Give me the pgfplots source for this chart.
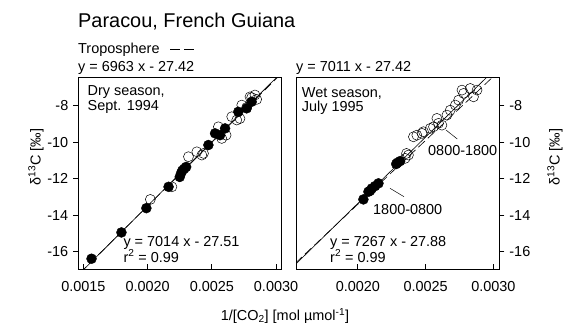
\documentclass[border=0pt]{standalone}
\usepackage{pgfplots}
\pgfplotsset{compat=1.18}
\usetikzlibrary{calc}
\usepackage{fontspec}
\setmainfont{Liberation Sans}
\begin{document}
\fontsize{14.5}{17}\selectfont
\begin{tikzpicture}[x=1bp,y=1bp]
\pgfplotsset{panel/.style={
  scale only axis, width=203.4bp, height=191.8bp, anchor=south west,
  ymin=-16.96, ymax=-6.45, ytick={-16,-14,-12,-10,-8},
  tick align=outside, xtick align/.try=inside, major tick length=5bp,
  xtick pos=left,
  /pgf/number format/assume math mode=true,
  scaled x ticks=false,
  xticklabel style={/pgf/number format/fixed, /pgf/number format/precision=4, /pgf/number format/fixed zerofill, yshift=-7bp},
  tick label style={font=\fontsize{14.5}{17}\selectfont},
  axis line style={line width=0.8bp},
  tick style={line width=0.7bp, black},
  clip=true,
}}
% Left panel
\begin{axis}[panel, name=L, at={(0,0)}, xmin=0.00146, xmax=0.003044,
  xtick={0.0015,0.002,0.0025,0.003}, ytick pos=left]
\addplot[black, line width=0.6bp] coordinates {(0.0014,-17.69) (0.0031,-5.77)};
\addplot[black, line width=0.6bp, dash pattern=on 9bp off 4bp] coordinates {(0.0014,-17.67) (0.0031,-5.83)};
\addplot[only marks, mark=o, mark size=5bp, mark options={black, line width=0.5bp}] coordinates {
(0.002021,-13.13) (0.002189,-12.44) (0.002318,-10.79) (0.002383,-10.52)
(0.002422,-10.70) (0.002435,-10.61) (0.002551,-9.15) (0.002577,-9.79)
(0.002611,-9.61) (0.002655,-8.60) (0.002694,-8.78) (0.002719,-8.70)
(0.002733,-7.96) (0.002771,-8.09) (0.002797,-7.51) (0.002810,-7.55)
(0.002836,-7.41) (0.002849,-7.65)};
\addplot[only marks, mark=*, mark size=5bp, mark options={black, fill=black}] coordinates {
(0.001563,-16.38) (0.001796,-14.94) (0.001990,-13.61) (0.002163,-12.44)
(0.002250,-11.90) (0.002260,-11.70) (0.002270,-11.55) (0.002285,-11.45)
(0.002300,-11.35) (0.002473,-10.15) (0.002525,-9.51) (0.002564,-9.61)
(0.002603,-9.24) (0.002706,-8.33) (0.002771,-8.14) (0.002810,-7.78)};
\end{axis}
% Right panel
\begin{axis}[panel, name=R, at={($(L.south west)+(217.7bp,0bp)$)}, xmin=0.001544, xmax=0.003044,
  xtick={0.002,0.0025,0.003}, ytick pos=right, yticklabel pos=right]
\addplot[black, line width=0.6bp] coordinates {(0.0014,-17.71) (0.0031,-5.35)};
\addplot[black, line width=0.6bp, dash pattern=on 9bp off 4bp] coordinates {(0.0014,-17.60) (0.0031,-5.69)};
\addplot[only marks, mark=o, mark size=5bp, mark options={black, line width=0.5bp}] coordinates {
(0.002349,-10.88) (0.002373,-10.70) (0.002359,-10.61) (0.002410,-9.70)
(0.002435,-9.61) (0.002473,-9.51) (0.002484,-9.42) (0.002534,-9.24)
(0.002558,-9.15) (0.002583,-8.69) (0.002595,-8.96) (0.002620,-9.06)
(0.002657,-8.51) (0.002681,-8.24) (0.002719,-7.96) (0.002743,-7.69)
(0.002768,-7.14) (0.002780,-7.32) (0.002829,-7.05) (0.002853,-7.51)
(0.002879,-7.14)};
\addplot[only marks, mark=*, mark size=5bp, mark options={black, fill=black}] coordinates {
(0.002041,-13.13) (0.002078,-12.71) (0.002090,-12.66) (0.002103,-12.53)
(0.002127,-12.40) (0.002152,-12.25) (0.002283,-11.19) (0.002292,-11.12)
(0.002312,-11.03)};
\end{axis}
% Texts, in page coordinates relative to the left axis box
\begin{scope}[shift={($(L.south west)+(-78.3bp,-63.7bp)$)}]
\node[anchor=base west, inner sep=0, font=\fontsize{20}{24}\selectfont] at (78,305.7) {Paracou, French Guiana};
\node[anchor=base west, inner sep=0] at (78,279.7) {Troposphere};
\draw[line width=0.6bp, dash pattern=on 10bp off 4bp] (170,283.7) -- (197,283.7);
\node[anchor=base west, inner sep=0] at (78,262) {y = 6963 x - 27.42};
\node[anchor=base west, inner sep=0] at (296,261.5) {y = 7011 x - 27.42};
\node[anchor=base west, inner sep=0] at (87.5,238) {Dry season,};
\node[anchor=base west, inner sep=0] at (87.5,223) {Sept. 1994};
\node[anchor=base west, inner sep=0] at (301.7,235.5) {Wet season,};
\node[anchor=base west, inner sep=0] at (301.7,221.5) {July 1995};
\node[anchor=base west, inner sep=0] at (123.3,87) {y = 7014 x - 27.51};
\node[anchor=base west, inner sep=0] at (123.3,71) {r\textsuperscript{2} = 0.99};
\node[anchor=base west, inner sep=0] at (330,86.5) {y = 7267 x - 27.88};
\node[anchor=base west, inner sep=0] at (330,71) {r\textsuperscript{2} = 0.99};
\node[anchor=base west, inner sep=0] at (428,178) {0800-1800};
\draw[line width=0.5bp] (446,203) -- (457.3,194);
\node[anchor=base west, inner sep=0] at (373,118.7) {1800-0800};
\draw[line width=0.5bp] (390,144.7) -- (404,136.3);
\node[rotate=90, inner sep=0] at (36,176) {δ\textsuperscript{13}C [‰]};
\node[rotate=90, inner sep=0] at (555,176) {δ\textsuperscript{13}C [‰]};
\node[inner sep=0] at (285,17) {1/[CO\textsubscript{2}] [mol µmol\textsuperscript{-1}]};
\pgfresetboundingbox
\path[use as bounding box] (0,0) rectangle (571,333);
\end{scope}
\end{tikzpicture}
\end{document}
